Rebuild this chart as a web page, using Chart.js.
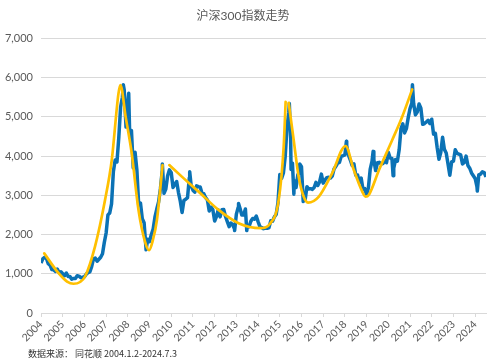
<!DOCTYPE html>
<html>
<head>
<meta charset="utf-8">
<script src="https://cdn.jsdelivr.net/npm/chart.js@4.4.1/dist/chart.umd.min.js"></script>
<style>
  html, body { margin: 0; padding: 0; background: #fff; }
  #wrap { position: relative; width: 500px; height: 363px; }
  #src { position: absolute; left: 28px; top: 347px; font: 9px "Noto Sans CJK SC", sans-serif; color: #333; white-space: nowrap; }
</style>
</head>
<body>
<div id="wrap">
  <canvas id="chart" width="500" height="363"></canvas>
  <div id="src">数据来源：&nbsp;同花顺 2004.1.2-2024.7.3</div>
</div>
<script>
// year tick labels on the x axis
const yearTicks = [2004, 2005, 2006, 2007, 2008, 2009, 2010, 2011, 2012, 2013, 2014,
  2015, 2016, 2017, 2018, 2019, 2020, 2021, 2022, 2023, 2024];

// month-end index level, Jan 2004 .. Jun 2024
const monthlyClose = [
  1380, 1420, 1390, 1260, 1220, 1110, 1100, 1060, 1120, 1030, 1050, 1000, // 2004
  950, 1020, 930, 930, 860, 880, 880, 950, 940, 900, 910, 923,            // 2005
  990, 1030, 1050, 1180, 1380, 1400, 1320, 1370, 1420, 1510, 1800, 2040,  // 2006
  2500, 2550, 2780, 3600, 3900, 3850, 4470, 5250, 5500, 5690, 4740, 5340, // 2007
  4600, 4650, 3700, 4100, 3650, 2760, 2800, 2400, 2300, 1680, 1880, 1820, // 2008
  2000, 2140, 2450, 2650, 2830, 3160, 3620, 3050, 3160, 3500, 3650, 3575, // 2009
  3200, 3280, 3350, 3070, 2850, 2560, 2870, 2900, 2940, 3450, 3250, 3130, // 2010
  3080, 3240, 3220, 3210, 3050, 3040, 2940, 2880, 2600, 2700, 2630, 2345, // 2011
  2460, 2630, 2450, 2630, 2640, 2460, 2330, 2200, 2290, 2250, 2140, 2520, // 2012
  2690, 2670, 2500, 2500, 2650, 2220, 2200, 2340, 2410, 2390, 2470, 2330, // 2013
  2200, 2180, 2150, 2160, 2160, 2170, 2350, 2340, 2450, 2510, 2810, 3530, // 2014
  3430, 3570, 3990, 4750, 5120, 4470, 3820, 3370, 3200, 3530, 3570, 3730, // 2015
  2950, 2880, 3220, 3160, 3170, 3150, 3200, 3330, 3250, 3340, 3540, 3310, // 2016
  3390, 3450, 3460, 3440, 3490, 3670, 3740, 3820, 3840, 4000, 4010, 4030, // 2017
  4270, 4020, 3900, 3760, 3800, 3510, 3520, 3330, 3440, 3150, 3170, 3010, // 2018
  3200, 3670, 3870, 3910, 3630, 3830, 3840, 3800, 3810, 3890, 3830, 4100, // 2019
  3950, 3940, 3690, 3910, 3870, 4160, 4700, 4820, 4590, 4700, 4980, 5210, // 2020
  5350, 5340, 5050, 5120, 5330, 5220, 4810, 4830, 4870, 4910, 4830, 4940, // 2021
  4560, 4580, 4220, 3920, 4090, 4480, 4170, 4080, 3800, 3510, 3850, 3870, // 2022
  4160, 4070, 4050, 4030, 3800, 3840, 4000, 3760, 3690, 3570, 3500, 3430, // 2023
  3220, 3520, 3540, 3600, 3580, 3470                                      // 2024
];

// intra-month highs and lows (decimal year, level)
const extraDates  = [2004.0, 2007.79, 2008.04, 2008.84, 2009.59, 2010.85, 2012.92, 2013.1, 2013.48,
  2015.44, 2015.52, 2015.65, 2015.92, 2016.08, 2018.07, 2019.3, 2020.22, 2021.11, 2024.1];
const extraValues = [1272, 5820, 5600, 1610, 3800, 3600, 2100, 2790, 2100,
  5340, 3660, 3030, 3800, 2840, 4380, 4120, 3500, 5820, 3110];

// hand-drawn trend curves (yellow), three pieces
const trendADates  = [2004.15, 2004.8, 2005.2, 2005.5, 2005.8, 2006.03, 2006.49, 2006.95, 2007.26, 2007.57, 2007.66,
  2007.9, 2008.18, 2008.49, 2008.8, 2008.98, 2009.15, 2009.34, 2009.6];
const trendAValues = [1520, 1020, 800, 745, 790, 930, 1700, 2880, 3900, 5600, 5810,
  5000, 4070, 2630, 1800, 1600, 1850, 2370, 3770];
const trendBDates  = [2009.91, 2010.5, 2011.26, 2012.18, 2013.1, 2014.1, 2014.57, 2014.95, 2015.18, 2015.27];
const trendBValues = [3770, 3470, 3094, 2628, 2290, 2163, 2290, 2883, 4240, 5385];
const trendCDates  = [2015.41, 2015.64, 2015.87, 2016.1, 2016.3, 2016.8, 2017.41, 2018.03, 2018.41, 2018.8,
  2018.95, 2019.1, 2019.57, 2020.18, 2020.64, 2021.1];
const trendCValues = [5360, 4410, 3476, 2968, 2815, 2968, 3562, 4257, 3646, 3094,
  2968, 3010, 3646, 4410, 5003, 5700];

const indexPoints = monthlyClose.map((v, i) => ({ x: 2004 + (i + 1) / 12, y: v }))
  .concat(extraDates.map((d, i) => ({ x: d, y: extraValues[i] })))
  .sort((a, b) => a.x - b.x);

const toPoints = (xs, ys) => xs.map((x, i) => ({ x: x, y: ys[i] }));

const gold = '#FFC000';
const blue = '#0B72B5';
const font = 'Lato, "Noto Sans CJK SC", sans-serif';

function trend(points) {
  return {
    data: points,
    borderColor: gold,
    borderWidth: 2.7,
    borderJoinStyle: 'round',
    borderCapStyle: 'round',
    pointRadius: 0,
    cubicInterpolationMode: 'monotone',
    fill: false
  };
}

new Chart(document.getElementById('chart').getContext('2d'), {
  type: 'line',
  data: {
    datasets: [
      trend(toPoints(trendADates, trendAValues)),
      trend(toPoints(trendBDates, trendBValues)),
      trend(toPoints(trendCDates, trendCValues)),
      {
        data: indexPoints,
        borderColor: blue,
        borderWidth: 3.5,
        borderJoinStyle: 'round',
        pointRadius: 0,
        tension: 0,
        fill: false
      }
    ]
  },
  options: {
    responsive: false,
    animation: false,
    layout: { padding: { left: 0, right: 14, top: 0, bottom: 20 } },
    plugins: {
      legend: { display: false },
      tooltip: { enabled: false },
      title: {
        display: true,
        text: '沪深300指数走势',
        color: '#595959',
        font: { size: 12, family: font, weight: 'normal' },
        padding: { top: 9, bottom: 15 }
      }
    },
    scales: {
      x: {
        type: 'linear',
        min: 2004,
        max: 2024.5,
        afterBuildTicks: s => { s.ticks = yearTicks.map(v => ({ value: v })); },
        afterFit: s => { s.height = 30; },
        grid: { drawOnChartArea: false, drawTicks: true, tickLength: 4, color: '#D9D9D9' },
        border: { color: '#D9D9D9' },
        ticks: {
          autoSkip: false,
          minRotation: 45,
          maxRotation: 45,
          padding: 1,
          color: '#595959',
          font: { size: 10.5, family: font },
          callback: v => String(v)
        }
      },
      y: {
        min: 0,
        max: 7000,
        afterFit: s => { s.width = 41; },
        ticks: {
          stepSize: 1000,
          padding: 8,
          color: '#595959',
          font: { size: 11, family: font },
          callback: v => v.toLocaleString('en-US')
        },
        grid: { color: '#D9D9D9', drawTicks: false },
        border: { display: false }
      }
    }
  }
});
</script>
</body>
</html>
